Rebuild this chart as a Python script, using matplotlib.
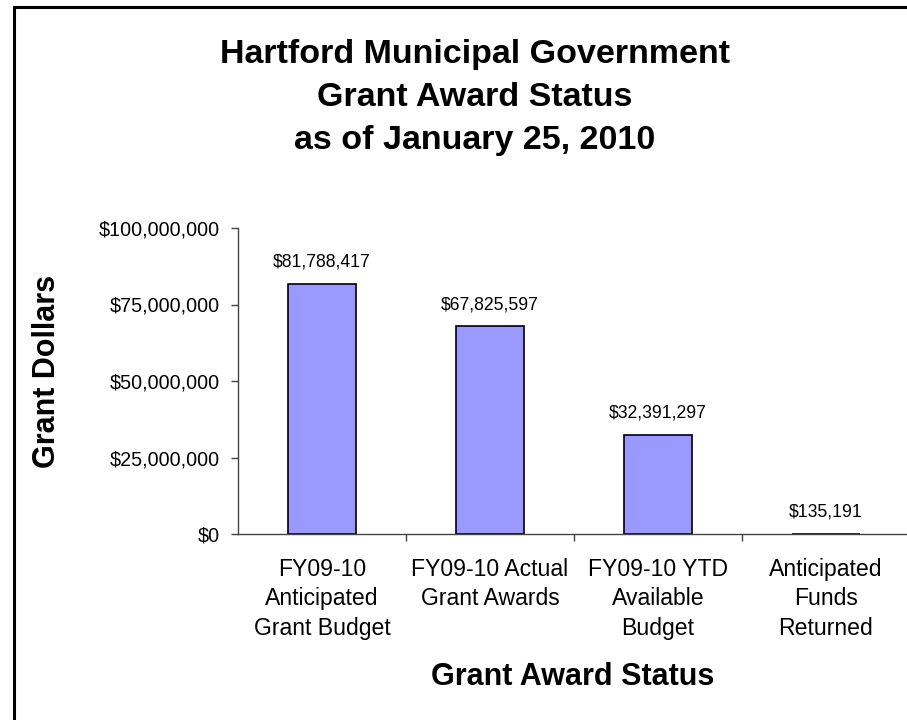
import matplotlib.pyplot as plt
from matplotlib.patches import Rectangle
from matplotlib.ticker import FuncFormatter

plt.rcParams['font.family'] = ['Liberation Sans', 'DejaVu Sans']

categories = ['FY09-10\nAnticipated\nGrant Budget', 'FY09-10 Actual\nGrant Awards',
              'FY09-10 YTD\nAvailable\nBudget', 'Anticipated\nFunds\nReturned']
values = [81788417, 67825597, 32391297, 135191]
yticks = [0, 25000000, 50000000, 75000000, 100000000]

fig = plt.figure(figsize=(9.07, 7.20), dpi=100)
# plot area runs past the right edge, like the cropped original
ax = fig.add_axes([238 / 907, 186 / 720, 672 / 907, 306 / 720])

x = list(range(len(values)))
ax.bar(x, values, width=0.4, color='#9999ff', edgecolor='black', linewidth=1.2)
for xi, v in zip(x, values):
    ax.annotate('${:,}'.format(v), (xi, v), xytext=(0, 15.5), textcoords='offset points',
                ha='center', va='center', fontsize=12.7)

ax.set_xlim(-0.5, 3.5)
ax.set_ylim(0, 100000000)
ax.set_yticks(yticks)
ax.yaxis.set_major_formatter(FuncFormatter(lambda v, p: '${:,.0f}'.format(v)))
ax.tick_params(axis='y', labelsize=14.2, length=5, width=1, color='#444444', pad=8)

# category boundaries get the tick marks, names sit between them
ax.set_xticks([0.5, 1.5, 2.5])
ax.set_xticklabels([])
ax.set_xticks(x, minor=True)
ax.set_xticklabels(categories, minor=True, fontsize=16.6, linespacing=1.36)
ax.tick_params(axis='x', which='major', length=5, width=1, color='#444444')
ax.tick_params(axis='x', which='minor', length=0, pad=17)

for s in ['top', 'right']:
    ax.spines[s].set_visible(False)
for s in ['left', 'bottom']:
    ax.spines[s].set_color('#444444')
    ax.spines[s].set_linewidth(1)

fig.text(47 / 907, 1 - 371 / 720, 'Grant Dollars', rotation=90, fontsize=22, fontweight='bold',
         ha='center', va='center')
fig.text(573 / 907, 1 - 677 / 720, 'Grant Award Status', fontsize=22, fontweight='bold',
         ha='center', va='center')
fig.text(475 / 907, 1 - 97 / 720, 'Hartford Municipal Government\nGrant Award Status\nas of January 25, 2010',
         fontsize=24.5, fontweight='bold', ha='center', va='center', linespacing=1.5)

fig.patches.append(Rectangle((14 / 907, -0.1), 1.2, 1 - 7 / 720 + 0.1, transform=fig.transFigure,
                             fill=False, edgecolor='black', linewidth=2.2, clip_on=False))

fig.savefig('out.png', dpi=100)
